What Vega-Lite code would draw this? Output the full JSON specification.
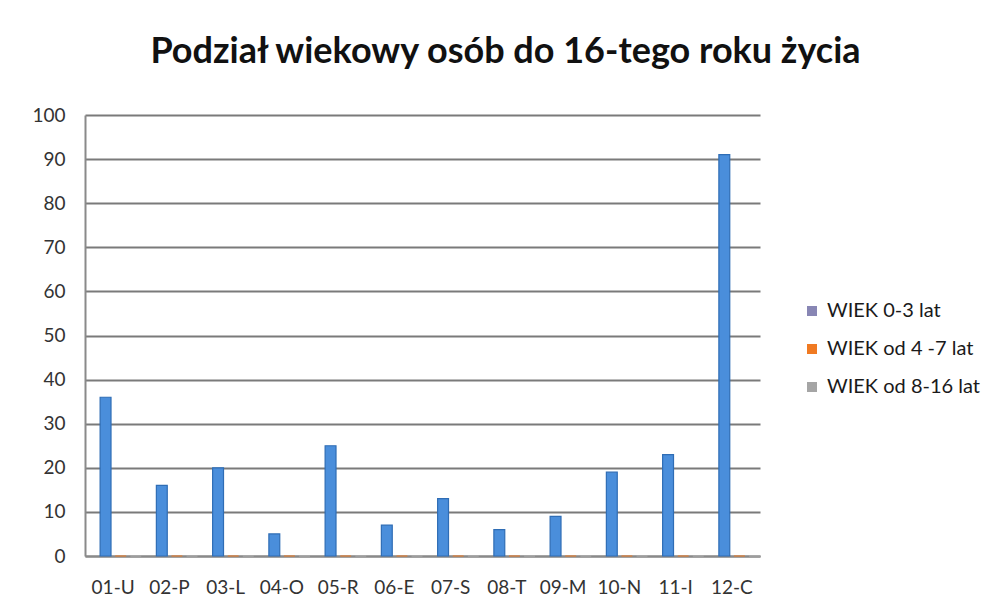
{
  "$schema": "https://vega.github.io/schema/vega-lite/v6.json",
  "autosize": "none",
  "width": 675,
  "height": 441,
  "padding": {"left": 85, "top": 115, "right": 229, "bottom": 57},
  "background": "white",
  "title": {
    "text": "Podział wiekowy osób do 16-tego roku życia",
    "font": "Lato",
    "fontSize": 36,
    "fontWeight": "bold",
    "color": "#111111",
    "anchor": "middle",
    "dx": 83,
    "offset": 35
  },
  "config": {
    "view": {"stroke": null},
    "axis": {"labelFont": "Lato", "labelFontSize": 19, "labelColor": "#333333", "titleFont": "Lato"}
  },
  "data": {
    "values": [
      {"kod": "01-U", "grupa": "WIEK 0-3 lat", "liczba": 36},
      {"kod": "02-P", "grupa": "WIEK 0-3 lat", "liczba": 16},
      {"kod": "03-L", "grupa": "WIEK 0-3 lat", "liczba": 20},
      {"kod": "04-O", "grupa": "WIEK 0-3 lat", "liczba": 5},
      {"kod": "05-R", "grupa": "WIEK 0-3 lat", "liczba": 25},
      {"kod": "06-E", "grupa": "WIEK 0-3 lat", "liczba": 7},
      {"kod": "07-S", "grupa": "WIEK 0-3 lat", "liczba": 13},
      {"kod": "08-T", "grupa": "WIEK 0-3 lat", "liczba": 6},
      {"kod": "09-M", "grupa": "WIEK 0-3 lat", "liczba": 9},
      {"kod": "10-N", "grupa": "WIEK 0-3 lat", "liczba": 19},
      {"kod": "11-I", "grupa": "WIEK 0-3 lat", "liczba": 23},
      {"kod": "12-C", "grupa": "WIEK 0-3 lat", "liczba": 91},
      {"kod": "01-U", "grupa": "WIEK od 4 -7 lat", "liczba": 0},
      {"kod": "02-P", "grupa": "WIEK od 4 -7 lat", "liczba": 0},
      {"kod": "03-L", "grupa": "WIEK od 4 -7 lat", "liczba": 0},
      {"kod": "04-O", "grupa": "WIEK od 4 -7 lat", "liczba": 0},
      {"kod": "05-R", "grupa": "WIEK od 4 -7 lat", "liczba": 0},
      {"kod": "06-E", "grupa": "WIEK od 4 -7 lat", "liczba": 0},
      {"kod": "07-S", "grupa": "WIEK od 4 -7 lat", "liczba": 0},
      {"kod": "08-T", "grupa": "WIEK od 4 -7 lat", "liczba": 0},
      {"kod": "09-M", "grupa": "WIEK od 4 -7 lat", "liczba": 0},
      {"kod": "10-N", "grupa": "WIEK od 4 -7 lat", "liczba": 0},
      {"kod": "11-I", "grupa": "WIEK od 4 -7 lat", "liczba": 0},
      {"kod": "12-C", "grupa": "WIEK od 4 -7 lat", "liczba": 0},
      {"kod": "01-U", "grupa": "WIEK od 8-16 lat", "liczba": 0},
      {"kod": "02-P", "grupa": "WIEK od 8-16 lat", "liczba": 0},
      {"kod": "03-L", "grupa": "WIEK od 8-16 lat", "liczba": 0},
      {"kod": "04-O", "grupa": "WIEK od 8-16 lat", "liczba": 0},
      {"kod": "05-R", "grupa": "WIEK od 8-16 lat", "liczba": 0},
      {"kod": "06-E", "grupa": "WIEK od 8-16 lat", "liczba": 0},
      {"kod": "07-S", "grupa": "WIEK od 8-16 lat", "liczba": 0},
      {"kod": "08-T", "grupa": "WIEK od 8-16 lat", "liczba": 0},
      {"kod": "09-M", "grupa": "WIEK od 8-16 lat", "liczba": 0},
      {"kod": "10-N", "grupa": "WIEK od 8-16 lat", "liczba": 0},
      {"kod": "11-I", "grupa": "WIEK od 8-16 lat", "liczba": 0},
      {"kod": "12-C", "grupa": "WIEK od 8-16 lat", "liczba": 0}
    ]
  },
  "encoding": {
    "x": {
      "field": "kod",
      "type": "nominal",
      "sort": null,
      "scale": {"paddingInner": 0, "paddingOuter": 0},
      "axis": {
        "title": null,
        "labelAngle": 0,
        "labelPadding": 22,
        "ticks": false,
        "domainColor": "#8a8a8a",
        "domainWidth": 2
      }
    },
    "y": {
      "field": "liczba",
      "type": "quantitative",
      "scale": {"domain": [0, 100]},
      "axis": {
        "title": null,
        "values": [0, 10, 20, 30, 40, 50, 60, 70, 80, 90, 100],
        "labelPadding": 20,
        "ticks": false,
        "domainColor": "#8a8a8a",
        "domainWidth": 2,
        "gridColor": "#7a7a7a",
        "gridWidth": 2
      }
    },
    "xOffset": {
      "field": "grupa",
      "type": "nominal",
      "scale": {"domain": ["_", "WIEK 0-3 lat", "WIEK od 4 -7 lat", "WIEK od 8-16 lat"], "paddingInner": 0.28}
    }
  },
  "layer": [
    {
      "mark": {"type": "bar", "strokeWidth": 1.2},
      "encoding": {
        "color": {
          "field": "grupa",
          "type": "nominal",
          "scale": {"domain": ["WIEK 0-3 lat", "WIEK od 4 -7 lat", "WIEK od 8-16 lat"], "range": ["#4a8edb", "#f07a22", "#a5a5a5"]},
          "legend": null
        },
        "stroke": {
          "field": "grupa",
          "type": "nominal",
          "scale": {"domain": ["WIEK 0-3 lat", "WIEK od 4 -7 lat", "WIEK od 8-16 lat"], "range": ["#2f6db5", "#f07a22", "#b0b0b0"]},
          "legend": null
        }
      }
    },
    {
      "mark": {"type": "point", "opacity": 0},
      "encoding": {
        "fill": {
          "field": "grupa",
          "type": "nominal",
          "scale": {"domain": ["WIEK 0-3 lat", "WIEK od 4 -7 lat", "WIEK od 8-16 lat"], "range": ["#8886b4", "#f07a22", "#a5a5a5"]},
          "legend": {
            "title": null,
            "orient": "none",
            "legendX": 717,
            "legendY": 186,
            "padding": 0,
            "symbolType": "square",
            "symbolSize": 100,
            "symbolOpacity": 1,
            "symbolStrokeWidth": 0,
            "labelFont": "Lato",
            "labelFontSize": 20,
            "labelColor": "#1a1a1a",
            "rowPadding": 18,
            "labelOffset": 5
          }
        }
      }
    }
  ],
  "resolve": {"scale": {"color": "independent", "fill": "independent", "stroke": "independent"}}
}
